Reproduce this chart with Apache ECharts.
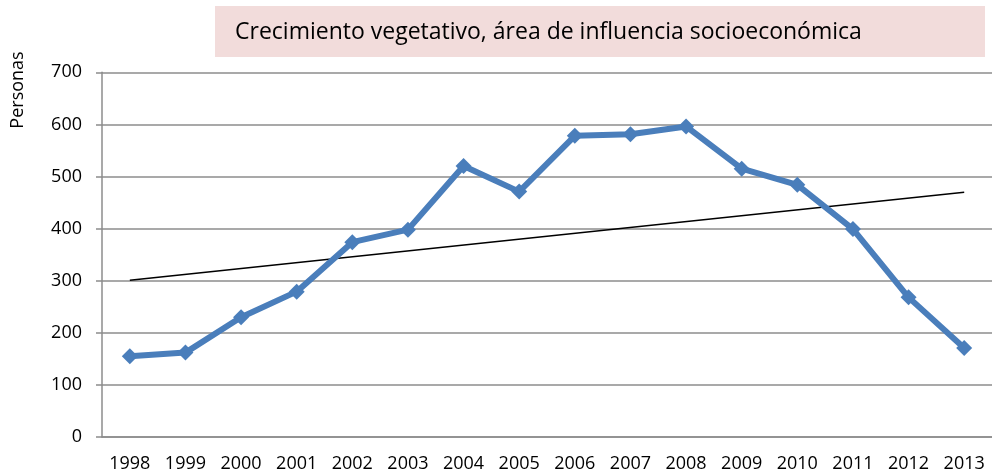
<!DOCTYPE html>
<html>
<head>
<meta charset="utf-8">
<script src="https://cdn.jsdelivr.net/npm/echarts@6/dist/echarts.min.js"></script>
<style>
  html, body { margin: 0; padding: 0; background: #fff; }
  #chart { width: 992px; height: 473px; }
</style>
</head>
<body>
<div id="chart"></div>
<script>
// datos
const years = ['1998','1999','2000','2001','2002','2003','2004','2005','2006','2007','2008','2009','2010','2011','2012','2013'];
const personas = [155, 162, 230, 279, 374, 398, 520, 471, 578, 581, 596, 515, 484, 399, 268, 171];
// línea de tendencia: valor al inicio y al final
const trendEnds = [301, 470];
const yTicks = { min: 0, max: 700, interval: 100 };

const font = 'Open Sans';
const trendData = years.map((y, i) => i === 0 ? trendEnds[0] : (i === years.length - 1 ? trendEnds[1] : '-'));

let myChart = echarts.init(document.getElementById('chart'));
var option = {
    backgroundColor: '#fff',
    animation: false,
    textStyle: { fontFamily: font, color: '#000' },
    graphic: [
        {
            type: 'rect',
            shape: { x: 215, y: 6, width: 770, height: 51 },
            style: { fill: '#f2dcdb' }
        },
        {
            type: 'text',
            x: 235, y: 32,
            style: {
                text: 'Crecimiento vegetativo, área de influencia socioeconómica',
                font: '23px "Open Sans"',
                fill: '#000',
                textVerticalAlign: 'middle'
            }
        },
        {
            // título del eje vertical
            type: 'text',
            x: 18, y: 90,
            rotation: Math.PI / 2,
            style: {
                text: 'Personas',
                font: '18px "Open Sans"',
                fill: '#000',
                textAlign: 'center',
                textVerticalAlign: 'middle'
            }
        }
    ],
    grid: { left: 102, top: 72.3, width: 899, height: 365 },
    xAxis: {
        type: 'category',
        boundaryGap: true,
        data: years,
        axisLine: { lineStyle: { color: '#8c8c8c', width: 1.5 } },
        axisTick: { length: 6, lineStyle: { color: '#8c8c8c', width: 1.5 } },
        axisLabel: { fontSize: 18, color: '#000', margin: 18, fontFamily: font }
    },
    yAxis: {
        type: 'value',
        min: yTicks.min,
        max: yTicks.max,
        interval: yTicks.interval,
        axisLine: { show: true, lineStyle: { color: '#8c8c8c', width: 1.5 } },
        axisTick: { show: true, length: 6, lineStyle: { color: '#8c8c8c', width: 1.5 } },
        axisLabel: { fontSize: 18, color: '#000', margin: 20, fontFamily: font },
        splitLine: { show: true, lineStyle: { color: '#8c8c8c', width: 1.5 } }
    },
    series: [
        {
            name: 'tendencia',
            type: 'line',
            data: trendData,
            connectNulls: true,
            symbol: 'none',
            lineStyle: { color: '#000', width: 1.5 },
            z: 3
        },
        {
            name: 'Personas',
            type: 'line',
            data: personas,
            symbol: 'diamond',
            symbolSize: 16,
            lineStyle: { color: '#4a7ebb', width: 6 },
            itemStyle: { color: '#4a7ebb' },
            z: 4
        }
    ]
};
myChart.setOption(option);
</script>
</body>
</html>
